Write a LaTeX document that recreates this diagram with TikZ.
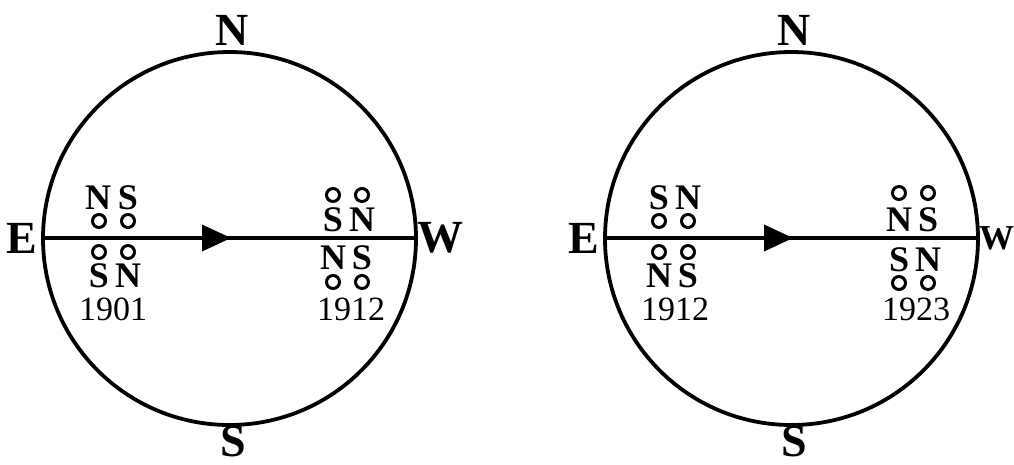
\documentclass[tikz,border=0pt]{standalone}
\usepackage{fontspec}
\setmainfont{Liberation Serif}

\tikzset{
  dial/.style={line width=3.8pt},
  compass/.style={font=\fontsize{46}{50}\selectfont\bfseries,inner sep=0pt},
  pole/.style={font=\fontsize{36}{40}\selectfont\bfseries,inner sep=0pt},
  year/.style={font=\fontsize{34}{38}\selectfont,inner sep=0pt},
  magnet/.style={line width=3pt}
}

\begin{document}
\begin{tikzpicture}[x=1pt,y=-1pt]

\useasboundingbox (0,0) rectangle (1014,464);

%=================================================
% LEFT DIAL
%=================================================

\draw[dial] (229.5,238.5) circle[radius=186.5];

\coordinate (eA) at (43,238);
\coordinate (tA) at (231,238);
\coordinate (wA) at (416,238);

\draw[dial] (eA)--(tA);
\draw[dial] (tA)--(wA);
\fill (tA)--(202,224.5)--(202,251.5)--cycle;

\node[compass] (NA) at (232,30) {N};
\node[compass] (SA) at (233,441) {S};
\node[compass] (EA) at (22,238) {E};
\node[compass] (WA) at (440,238) {W};

% 1901

\foreach \x in {99,128}
{
\draw[magnet] (\x,221) circle[radius=6.5];
\draw[magnet] (\x,252) circle[radius=6.5];
}

\node[pole] (p1) at (98,198) {N};
\node[pole] (p2) at (128,198) {S};
\node[pole] (p3) at (99,276) {S};
\node[pole] (p4) at (128,276) {N};
\node[year] (y1) at (113,309) {1901};

% 1912

\foreach \x in {333,362}
{
\draw[magnet] (\x,195) circle[radius=6.5];
\draw[magnet] (\x,282) circle[radius=6.5];
}

\node[pole] (p5) at (333,220) {S};
\node[pole] (p6) at (362,220) {N};
\node[pole] (p7) at (333,258) {N};
\node[pole] (p8) at (362,258) {S};
\node[year] (y2) at (351,309) {1912};

%=================================================
% RIGHT DIAL
%=================================================

\draw[dial] (791.5,238.5) circle[radius=186.5];

\coordinate (eB) at (605,238);
\coordinate (tB) at (793,238);
\coordinate (wB) at (978,238);

\draw[dial] (eB)--(tB);
\draw[dial] (tB)--(wB);
\fill (tB)--(764,224.5)--(764,251.5)--cycle;

\node[compass] (NB) at (794,30) {N};
\node[compass] (SB) at (794,441) {S};
\node[compass] (EB) at (584,238) {E};
\node[compass,anchor=west,font=\fontsize{35}{40}\selectfont\bfseries]
  (WB) at (979,238) {W};

% 1912

\foreach \x in {659,688}
{
\draw[magnet] (\x,221) circle[radius=6.5];
\draw[magnet] (\x,252) circle[radius=6.5];
}

\node[pole] (q1) at (659,198) {S};
\node[pole] (q2) at (688,198) {N};
\node[pole] (q3) at (659,276) {N};
\node[pole] (q4) at (688,276) {S};
\node[year] (y3) at (675,309) {1912};

% 1923

\foreach \x in {899,928}
{
\draw[magnet] (\x,193) circle[radius=6.5];
\draw[magnet] (\x,283) circle[radius=6.5];
}

\node[pole] (q5) at (899,220) {N};
\node[pole] (q6) at (928,220) {S};
\node[pole] (q7) at (899,260) {S};
\node[pole] (q8) at (928,260) {N};
\node[year] (y4) at (916,309) {1923};

\end{tikzpicture}
\end{document}
